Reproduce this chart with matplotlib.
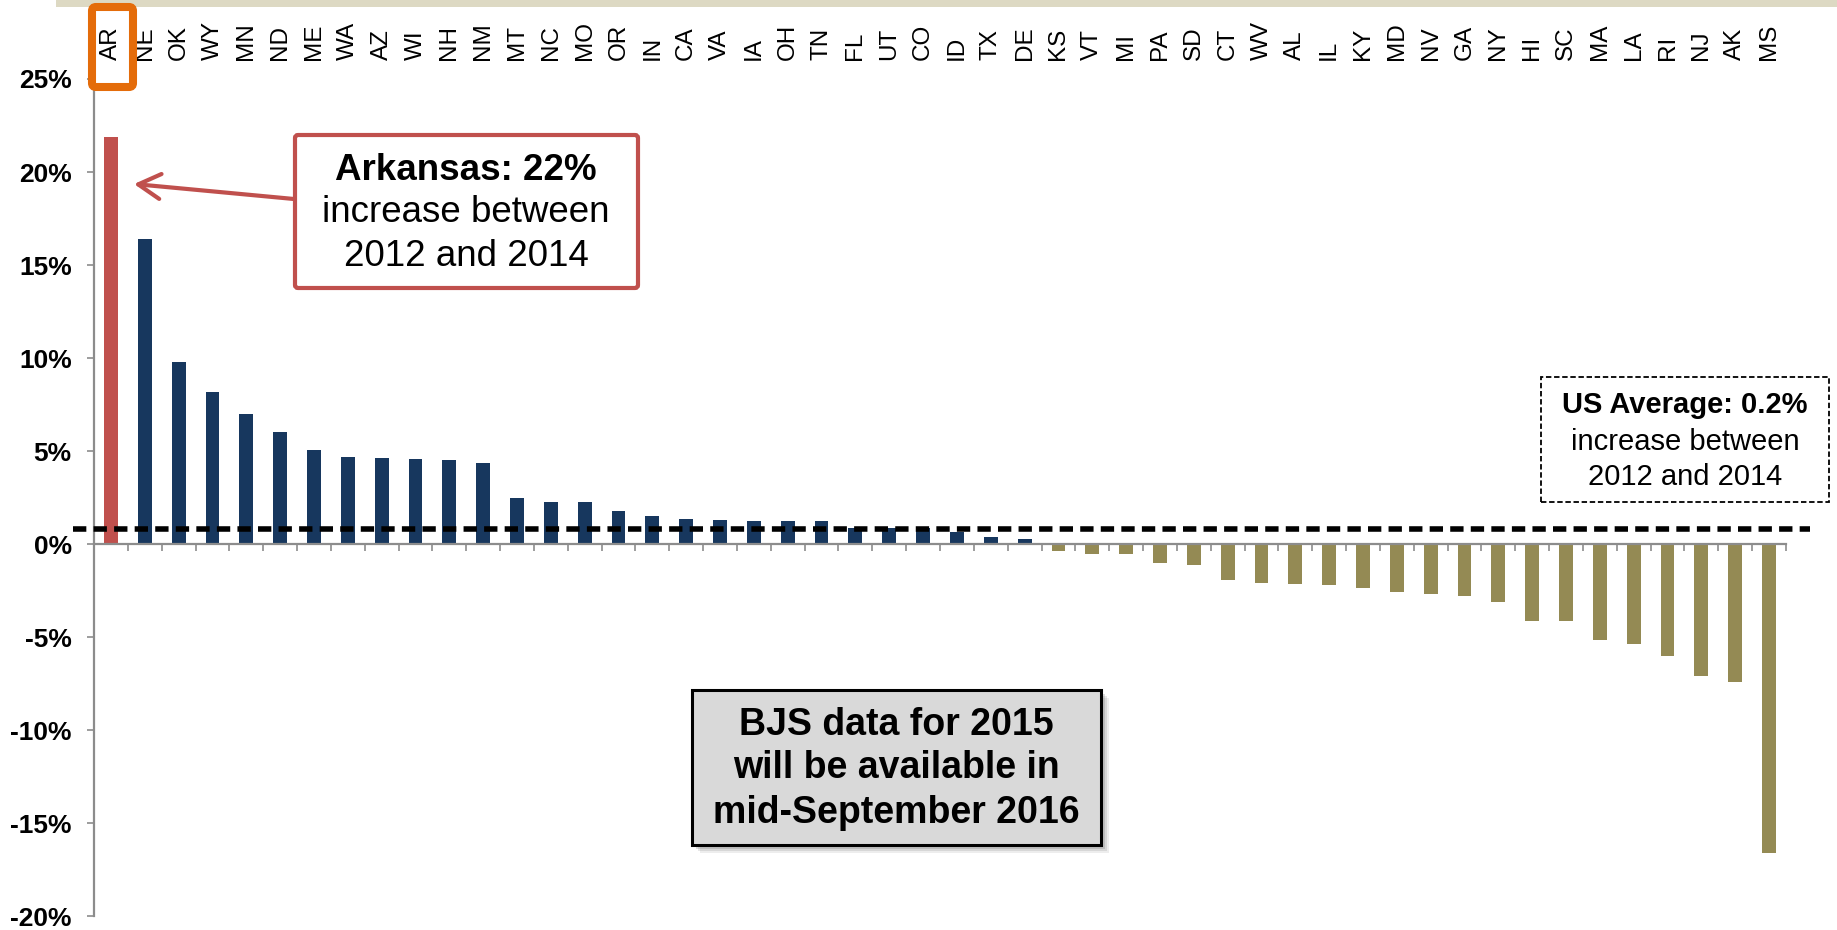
import matplotlib
matplotlib.use("Agg")
import matplotlib.pyplot as plt
from matplotlib.patches import FancyBboxPatch, Rectangle
from matplotlib.transforms import IdentityTransform

plt.rcParams['font.family'] = ['Liberation Sans', 'DejaVu Sans']

# percent change in prison population, 2012 -> 2014, by state
states = ["AR", "NE", "OK", "WY", "MN", "ND", "ME", "WA", "AZ", "WI",
          "NH", "NM", "MT", "NC", "MO", "OR", "IN", "CA", "VA", "IA",
          "OH", "TN", "FL", "UT", "CO", "ID", "TX", "DE", "KS", "VT",
          "MI", "PA", "SD", "CT", "WV", "AL", "IL", "KY", "MD", "NV",
          "GA", "NY", "HI", "SC", "MA", "LA", "RI", "NJ", "AK", "MS"]
change = [21.9, 16.4, 9.8, 8.15, 7.0, 6.0, 5.08, 4.66, 4.61, 4.55,
          4.5, 4.34, 2.5, 2.24, 2.24, 1.75, 1.52, 1.37, 1.31, 1.25,
          1.25, 1.25, 0.88, 0.88, 0.88, 0.66, 0.39, 0.29, -0.36, -0.52,
          -0.56, -1.02, -1.13, -1.93, -2.1, -2.15, -2.2, -2.37, -2.57, -2.7,
          -2.78, -3.1, -4.13, -4.13, -5.16, -5.37, -6.0, -7.08, -7.42, -16.6]
us_avg_line = 0.82
yticks = [-20, -15, -10, -5, 0, 5, 10, 15, 20, 25]
highlight = "AR"

RED = "#C0504D"
NAVY = "#17375E"
OLIVE = "#948A54"
ORANGE = "#E46C0A"
GREY = "#8C8C8C"

W, H = 1837, 930
fig = plt.figure(figsize=(W / 100, H / 100), dpi=100)
ax = fig.add_axes([94 / W, 1 - 916 / H, (1786 - 94) / W, (916 - 79) / H])

colors = [RED if s == highlight else (NAVY if v >= 0 else OLIVE)
          for s, v in zip(states, change)]
x = list(range(len(states)))
ax.bar(x, change, width=0.41, color=colors, zorder=2)

ax.set_xlim(-0.5, len(states) - 0.5)
ax.set_ylim(-20, 25)

for sp in ['top', 'right']:
    ax.spines[sp].set_visible(False)
ax.spines['bottom'].set_position(('data', 0))
for sp in ['left', 'bottom']:
    ax.spines[sp].set_color(GREY)
    ax.spines[sp].set_linewidth(1.6)

ax.set_xticks([i - 0.5 for i in range(len(states) + 1)])
ax.set_xticklabels([])
ax.tick_params(axis='x', direction='out', length=5, width=1.2, color=GREY)
ax.set_yticks(yticks)
ax.set_yticklabels([f"{v}%" for v in yticks], fontsize=19, fontweight='bold')
ax.tick_params(axis='y', direction='out', length=5, width=1.2, color=GREY, pad=11)

# state labels above the plot
for i, s in enumerate(states):
    ax.annotate(s, xy=(i, 1), xycoords=ax.get_xaxis_transform(),
                xytext=(0, 19), textcoords='offset pixels',
                rotation=90, ha='center', va='bottom', fontsize=17.5)

# US average dashed line
ax.axhline(us_avg_line, xmin=-0.0124, xmax=1.014, color='black', lw=4,
           dashes=(2.4, 1.3), clip_on=False, zorder=3)

# beige strip at top
fig.add_artist(Rectangle((56, H - 7), W - 56, 7, transform=IdentityTransform(),
                         facecolor="#DDD9C3", edgecolor='none'))

# orange highlight box around AR label
fig.add_artist(FancyBboxPatch((92, H - 87), 41, 80, boxstyle="round,pad=0,rounding_size=4",
                              transform=IdentityTransform(), facecolor='none',
                              edgecolor=ORANGE, lw=5.8))

# Arkansas callout
fig.add_artist(FancyBboxPatch((295, H - 288), 343, 153, boxstyle="round,pad=0,rounding_size=3",
                              transform=IdentityTransform(), facecolor='white',
                              edgecolor=RED, lw=3))
fig.text(466 / W, 1 - 170 / H, "Arkansas: 22%", ha='center', va='center',
         fontsize=26.5, fontweight='bold')
fig.text(466 / W, 1 - 213 / H, "increase between", ha='center', va='center', fontsize=26.5)
fig.text(466 / W, 1 - 257 / H, "2012 and 2014", ha='center', va='center', fontsize=26.5)
ax.annotate('', xy=(134, H - 184), xycoords='figure pixels',
            xytext=(294, H - 199), textcoords='figure pixels',
            arrowprops=dict(arrowstyle='->,head_length=0.8,head_width=0.45',
                            color=RED, lw=3, mutation_scale=20, shrinkA=0, shrinkB=0))

# US average callout
fig.add_artist(Rectangle((1541, H - 502), 288, 125, transform=IdentityTransform(),
                         facecolor='white', edgecolor='black', lw=1.3, ls=(0, (3, 1.5))))
fig.text(1685 / W, 1 - 405 / H, "US Average: 0.2%", ha='center', va='center',
         fontsize=21, fontweight='bold')
fig.text(1685 / W, 1 - 442 / H, "increase between", ha='center', va='center', fontsize=21)
fig.text(1685 / W, 1 - 477 / H, "2012 and 2014", ha='center', va='center', fontsize=21)

# BJS note with soft shadow
for k, a in enumerate([0.10, 0.14, 0.20]):
    off = 8 - 2 * k
    fig.add_artist(Rectangle((692 + off, H - 845 - off), 409, 155, transform=IdentityTransform(),
                             facecolor='#555555', edgecolor='none', alpha=a))
fig.add_artist(Rectangle((692, H - 845), 409, 155, transform=IdentityTransform(),
                         facecolor='#D9D9D9', edgecolor='black', lw=2.2))
for txt, yy in [("BJS data for 2015", 725), ("will be available in", 768),
                ("mid-September 2016", 813)]:
    fig.text(896 / W, 1 - yy / H, txt, ha='center', va='center', fontsize=27, fontweight='bold')

fig.savefig("out.png", dpi=100)
